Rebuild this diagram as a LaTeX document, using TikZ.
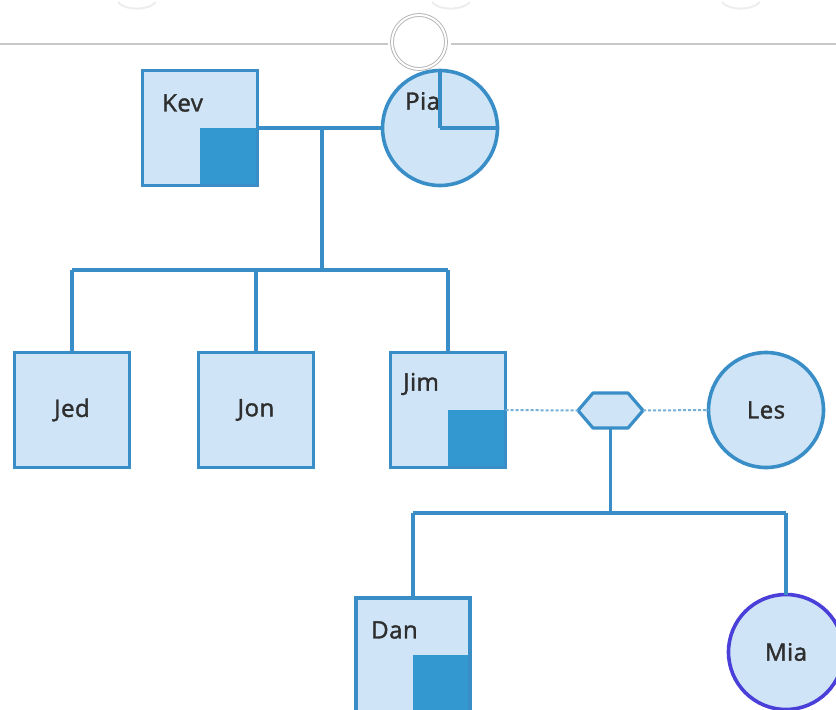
\documentclass[tikz,border=0pt]{standalone}
\usepackage{fontspec}
\setmainfont{Open Sans}
\newfontfamily\tagfont[FakeBold=1.6, LetterSpace=2]{Open Sans}
\begin{document}
\definecolor{boxfill}{HTML}{CFE5F7}
\definecolor{boxline}{HTML}{3A8EC8}
\definecolor{affected}{HTML}{3298CF}
\definecolor{miaring}{HTML}{4A3FD8}
\definecolor{labeltext}{HTML}{2E2E2E}
\definecolor{rulegray}{HTML}{C8C8C8}
\begin{tikzpicture}[x=1pt,y=-1pt,
  male/.style={draw=boxline, fill=boxfill, line width=3.8pt, minimum size=115pt, inner sep=0pt, outer sep=0pt, rectangle},
  female/.style={draw=boxline, fill=boxfill, line width=3.6pt, minimum size=115pt, inner sep=0pt, outer sep=0pt, circle},
  tag/.style={text=labeltext, font=\tagfont\fontsize{24}{28}\selectfont, inner sep=0pt},
  link/.style={draw=boxline, line width=3.2pt},
  partner/.style={draw=boxline!70, line width=2pt, dash pattern=on 3pt off 2pt},
  ghost/.style={draw=rulegray, line width=1.4pt}]
\useasboundingbox (0,0) rectangle (836,710);
\clip (0,0) rectangle (836,710);

% faint header items and rule
\draw[ghost, draw=gray!14, line width=2pt] (118,2) arc[start angle=200, end angle=340, x radius=20pt, y radius=10pt];
\draw[ghost, draw=gray!14, line width=2pt] (432,2) arc[start angle=200, end angle=340, x radius=20pt, y radius=10pt];
\draw[ghost, draw=gray!14, line width=2pt] (722,2) arc[start angle=200, end angle=340, x radius=20pt, y radius=10pt];
\coordinate (ruleL) at (0,44);
\coordinate (ruleR) at (836,44);
\coordinate (ruleA) at (388,44);
\coordinate (ruleB) at (451,44);
\draw[ghost] (ruleL) -- (ruleA);
\draw[ghost] (ruleB) -- (ruleR);

% first generation
\node[male] (kev) at (200,128) {};
\fill[affected] (kev.center) rectangle (kev.south east);
\draw[boxline, line width=3.8pt] (kev.north west) rectangle (kev.south east);
\node[tag, anchor=west] (kevt) at (162,103) {Kev};

\node[female] (pia) at (440,128) {};
\node[tag, anchor=west] (piat) at (405,101) {Pia};
\draw[link] (pia.center) -- (pia.north);
\draw[link] (pia.center) -- (pia.east);

% selection handle above Pia
\node[circle, minimum size=54pt, draw=gray!60, double=white, double distance=2pt, line width=0.9pt, inner sep=0pt] (handle) at (419,42) {};

\coordinate (kpm) at (322,128);
\coordinate (kpd) at (322,270);
\draw[link] (kev.east) -- (pia.west);
\draw[link] (kpm) -- (kpd);

% second generation
\node[male] (jed) at (72,410) {};
\node[tag] (jedt) at (jed.center) {Jed};
\node[male] (jon) at (256,410) {};
\node[tag] (jont) at (jon.center) {Jon};
\node[male] (jim) at (448,410) {};
\fill[affected] (jim.center) rectangle (jim.south east);
\draw[boxline, line width=3.8pt] (jim.north west) rectangle (jim.south east);
\node[tag, anchor=west] (jimt) at (403,384) {Jim};

\coordinate (sibL) at (72,270);
\coordinate (sibR) at (448,270);
\draw[link] (sibL) -- (sibR);
\draw[link] (sibL) -- (jed.north);
\draw[link] (kpd -| jon.north) -- (jon.north);
\draw[link] (sibR) -- (jim.north);

\node[female] (les) at (766,410) {};
\node[tag] (lest) at (les.center) {Les};

% union node
\node[minimum width=65pt, minimum height=35pt, inner sep=0pt, outer sep=0pt] (hex) at (610.5,410.5) {};
\draw[link, fill=boxfill, line join=round]
  (hex.west) -- ([xshift=15pt]hex.north west) -- ([xshift=-15pt]hex.north east)
  -- (hex.east) -- ([xshift=-15pt]hex.south east) -- ([xshift=15pt]hex.south west) -- cycle;
\draw[partner] (jim.east) -- (hex.west);
\draw[partner] (hex.east) -- (les.west);

% third generation
\node[male, minimum size=114pt] (dan) at (413,655) {};
\fill[affected] (dan.center) rectangle (dan.south east);
\draw[boxline, line width=3.8pt] (dan.north west) rectangle (dan.south east);
\node[tag, anchor=west] (dant) at (371,630) {Dan};

\node[female, draw=miaring] (mia) at (786,652) {};
\node[tag] (miat) at (mia.center) {Mia};

\coordinate (hexd) at (610.5,513);
\coordinate (kidL) at (413,513);
\coordinate (kidR) at (786,513);
\draw[link] (hex.south) -- (hexd);
\draw[link] (kidL) -- (kidR);
\draw[link] (kidL) -- (dan.north);
\draw[link] (kidR) -- (mia.north);
\end{tikzpicture}
\end{document}
